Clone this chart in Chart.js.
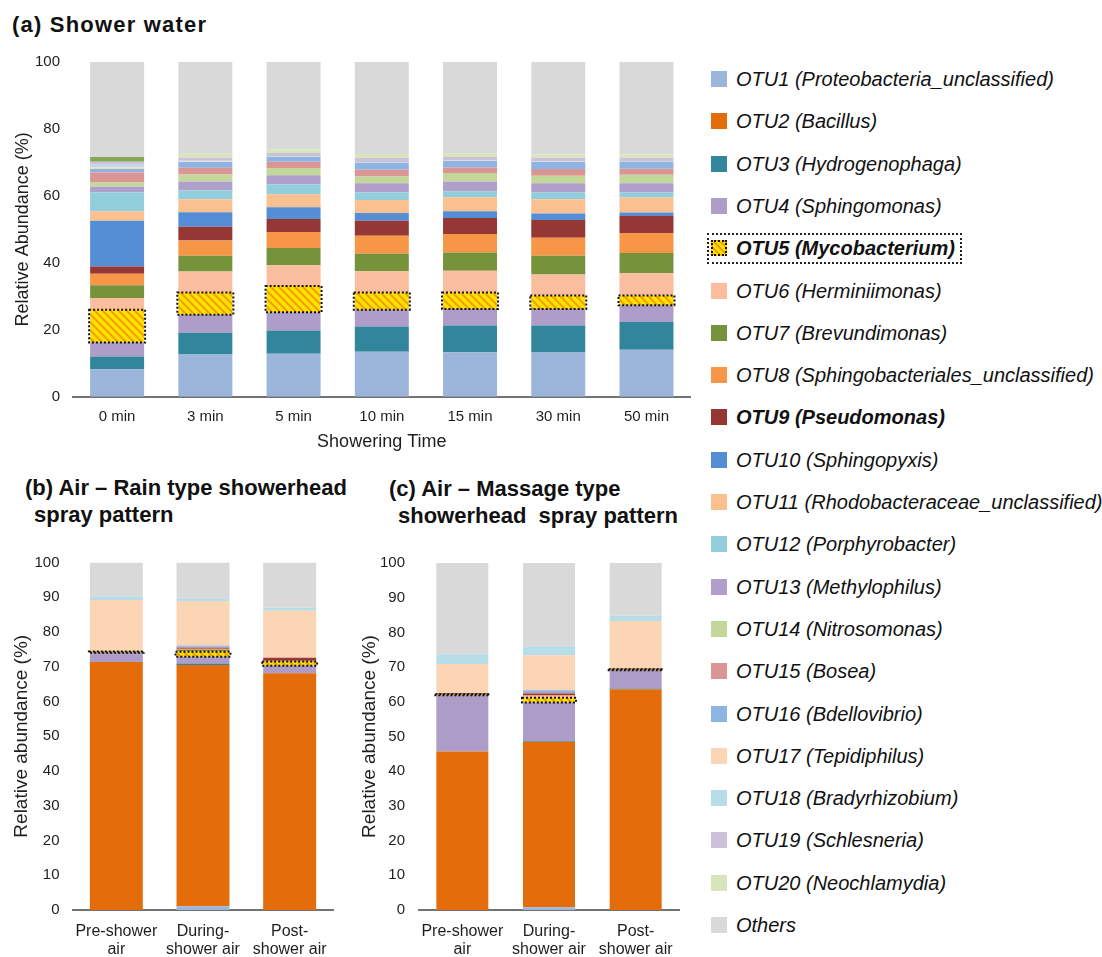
<!DOCTYPE html>
<html><head><meta charset="utf-8">
<script src="https://cdn.jsdelivr.net/npm/chart.js@4.4.1/dist/chart.umd.min.js"></script>
<style>
body{margin:0;background:#fff;width:1102px;height:957px;position:relative;overflow:hidden;font-family:"Liberation Sans",Arial,sans-serif;color:#111}
.cv{position:absolute}
.title{position:absolute;font-weight:bold;font-size:22px;white-space:pre;height:26px;line-height:26px;color:#111}
.leg{position:absolute;left:711px;font-style:italic;font-size:20px;white-space:nowrap;height:24px;line-height:24px;color:#111}
.sw{position:absolute;left:0;top:4px;width:16px;height:16px}
.lt{position:absolute;left:25px;top:0}
.hatch{background:repeating-linear-gradient(45deg,#ffe100 0 3px,#f4a300 3px 5px);box-sizing:border-box;border:2px dotted #111}
#otu5box{position:absolute;left:707px;width:251px;height:27px;border:2px dotted #222}
</style></head>
<body>
<div class="title" style="left:12px;top:12px;letter-spacing:1.2px">(a) Shower water</div>
<div class="title" style="left:25px;top:475px">(b) Air – Rain type showerhead</div>
<div class="title" style="left:34px;top:502px">spray pattern</div>
<div class="title" style="left:389px;top:476px">(c) Air – Massage type</div>
<div class="title" style="left:398px;top:503px">showerhead  spray pattern</div>

<canvas id="chartA" class="cv" width="700" height="420" style="left:0;top:40px"></canvas>
<canvas id="chartB" class="cv" width="345" height="417" style="left:0;top:540px"></canvas>
<canvas id="chartC" class="cv" width="345" height="417" style="left:345px;top:540px"></canvas>
<div id="legend"></div>

<script>
// ---------- data ----------
const otuNames = [
  'OTU1 (Proteobacteria_unclassified)','OTU2 (Bacillus)','OTU3 (Hydrogenophaga)','OTU4 (Sphingomonas)',
  'OTU5 (Mycobacterium)','OTU6 (Herminiimonas)','OTU7 (Brevundimonas)','OTU8 (Sphingobacteriales_unclassified)',
  'OTU9 (Pseudomonas)','OTU10 (Sphingopyxis)','OTU11 (Rhodobacteraceae_unclassified)','OTU12 (Porphyrobacter)',
  'OTU13 (Methylophilus)','OTU14 (Nitrosomonas)','OTU15 (Bosea)','OTU16 (Bdellovibrio)','OTU17 (Tepidiphilus)',
  'OTU18 (Bradyrhizobium)','OTU19 (Schlesneria)','OTU20 (Neochlamydia)','Others'
];

// (a) Shower water — values per sample, in the order of otuNames
const showerLabels = ['0 min','3 min','5 min','10 min','15 min','30 min','50 min'];
const shower0min  = [8.2,0,3.8,4.2,9.8,3.5,3.8,3.4,2.2,13.7,2.8,5.7,1.6,1.3,3.0,1.0,0.5,0.8,0.9,1.4,28.4];
const shower3min  = [12.6,0,6.5,5.4,6.6,6.3,4.7,4.6,4.1,4.3,3.9,2.7,2.6,2.1,2.0,1.7,0.2,0.2,0.9,1.2,27.4];
const shower5min  = [12.8,0,7.0,5.4,7.9,6.2,5.1,4.8,3.9,3.5,3.9,3.0,2.7,2.1,1.9,1.5,0.1,0.1,0.9,1.1,26.1];
const shower10min = [13.4,0,7.6,5.0,5.1,6.4,5.2,5.4,4.5,2.3,3.9,2.3,2.7,2.0,2.0,2.1,0.1,0.1,1.2,1.2,27.5];
const shower15min = [13.3,0,8.0,4.9,4.9,6.5,5.5,5.5,4.8,2.0,4.2,1.8,2.9,2.5,1.7,1.9,0.1,0.1,1.0,1.1,27.3];
const shower30min = [13.2,0,8.1,4.9,4.0,6.3,5.6,5.4,5.3,1.9,4.3,2.0,2.8,2.2,2.0,2.1,0.1,0.1,1.1,1.0,27.6];
const shower50min = [14.0,0,8.3,5.0,2.9,6.7,6.0,6.0,5.1,1.0,4.5,1.5,2.8,2.5,1.8,2.1,0.1,0.1,1.0,1.0,27.6];

// (b) Air – rain type showerhead
const airLabels = [['Pre-shower','air'],['During-','shower air'],['Post-','shower air']];
const rainPre    = [0,71.4,0,2.6,0.4,0,0,0,0.1,0,0,0,0,0,0,0,14.7,1.1,0,0,9.7];
const rainDuring = [1.1,69.4,0.4,2.0,1.4,0.2,0.4,0.3,0.3,0,0,0,0.3,0,0,0.3,12.8,0.8,0,0,10.3];
const rainPost   = [0,68.1,0,2.2,1.2,0,0,0.2,0.9,0,0,0,0,0,0,0,13.5,0.9,0,0,13.0];

// (c) Air – massage type showerhead
const massagePre    = [0,45.7,0,16.2,0.3,0,0,0,0.3,0,0,0,0,0,0,0,8.4,2.8,0,0,26.3];
const massageDuring = [0.8,47.7,0.3,11.0,1.4,0.3,0,0.4,0.5,0,0,0,0.4,0,0,0.5,10.1,2.6,0,0,24.0];
const massagePost   = [0,63.6,0.2,5.3,0.3,0,0,0,0.2,0,0,0,0,0,0,0,13.7,1.5,0,0,15.2];

const yTicksA = [0,20,40,60,80,100];
const yTicksBC = [0,10,20,30,40,50,60,70,80,90,100];

// ---------- styles ----------
const otuColors = ['#9cb5da','#e46c0a','#31869b','#ae9dc8',null,'#fabd9e','#76933c','#f79646','#953735','#558ed5',
  '#fac08f','#92cddc','#b09fca','#c4d79b','#da9694','#8db4e2','#fcd5b4','#b7dee8','#ccc0da','#d8e4bc','#d9d9d9'];
const FONT = '"Liberation Sans", Arial, sans-serif';
const TXT = '#1e1e1e';

function hatchPattern(ctx){
  const c=document.createElement('canvas'); c.width=c.height=8;
  const g=c.getContext('2d');
  g.fillStyle='#ffe100'; g.fillRect(0,0,8,8);
  g.strokeStyle='#f2a200'; g.lineWidth=2;
  g.beginPath();
  g.moveTo(-4,4); g.lineTo(4,12);
  g.moveTo(0,0); g.lineTo(8,8);
  g.moveTo(4,-4); g.lineTo(12,4);
  g.stroke();
  return ctx.createPattern(c,'repeat');
}

const dotBorder = {
  id:'dotBorder',
  afterDatasetsDraw(chart){
    const idx = chart.data.datasets.findIndex(d=>d.label.startsWith('OTU5'));
    const meta = chart.getDatasetMeta(idx);
    const ctx = chart.ctx;
    ctx.save();
    ctx.setLineDash([2,2]); ctx.lineWidth=2; ctx.strokeStyle='#111';
    meta.data.forEach((el,j)=>{
      if(!chart.data.datasets[idx].data[j]) return;
      const p = el.getProps(['x','y','base','width'],true);
      ctx.strokeRect(p.x-p.width/2-1, p.y, p.width+2, p.base-p.y);
    });
    ctx.restore();
  }
};

function makeChart(id, labels, samples, cfg){
  const canvas=document.getElementById(id);
  const ctx=canvas.getContext('2d');
  const pat=hatchPattern(ctx);
  const datasets = otuNames.map((name,k)=>({
    label:name,
    data:samples.map(s=>s[k]),
    backgroundColor: k===4 ? pat : (cfg.colorOverride && cfg.colorOverride[k]) || otuColors[k],
    borderWidth:0,
    barPercentage:cfg.barPct,
    categoryPercentage:1
  }));
  return new Chart(ctx,{
    type:'bar',
    data:{labels, datasets},
    plugins:[dotBorder],
    options:{
      responsive:false, animation:false, devicePixelRatio:1,
      layout:{padding:cfg.padding},
      plugins:{legend:{display:false},tooltip:{enabled:false}},
      scales:{
        x:{stacked:true,
           grid:{display:false,drawTicks:false},
           border:{display:true,color:'#737373',width:2},
           ticks:{color:TXT,font:{family:FONT,size:cfg.xFont,lineHeight:1.15},padding:cfg.xPad,maxRotation:0,autoSkip:false},
           title:{display:!!cfg.xTitle,text:cfg.xTitle||'',color:TXT,font:{family:FONT,size:18},padding:{top:0,bottom:7}},
           afterFit:s=>{s.height=cfg.xHeight;}
        },
        y:{stacked:true,min:0,max:100,
           afterBuildTicks:s=>{s.ticks=cfg.yTicks.map(v=>({value:v}));},
           grid:{display:false,drawTicks:false},
           border:{display:false},
           ticks:{color:TXT,font:{family:FONT,size:15},padding:cfg.yPad},
           title:{display:true,text:cfg.yTitle,color:TXT,font:{family:FONT,size:cfg.yTitleSize},padding:{top:cfg.yTitlePad,bottom:0}},
           afterFit:s=>{s.width=cfg.yWidth;}
        }
      }
    }
  });
}

makeChart('chartA', showerLabels,
  [shower0min,shower3min,shower5min,shower10min,shower15min,shower30min,shower50min],
  {barPct:0.612, padding:{top:21.7,right:9.4,bottom:0,left:0}, xFont:15, xPad:12, xTitle:'Showering Time', xHeight:63.3,
   yTicks:yTicksA, yPad:13, yTitle:'Relative Abundance (%)', yTitleSize:18, yTitlePad:12, yWidth:73,
   colorOverride:{19:['#86a556','#d8e4bc','#d8e4bc','#d8e4bc','#d8e4bc','#d8e4bc','#d8e4bc']}});

makeChart('chartB', airLabels, [rainPre,rainDuring,rainPost],
  {barPct:0.611, padding:{top:16.7,right:12,bottom:0,left:0}, xFont:16, xPad:12, xTitle:null, xHeight:47,
   yTicks:yTicksBC, yPad:13.5, yTitle:'Relative abundance (%)', yTitleSize:19, yTitlePad:10, yWidth:73});

makeChart('chartC', airLabels, [massagePre,massageDuring,massagePost],
  {barPct:0.6, padding:{top:16.7,right:11,bottom:0,left:0}, xFont:16, xPad:12, xTitle:null, xHeight:47,
   yTicks:yTicksBC, yPad:14, yTitle:'Relative abundance (%)', yTitleSize:19, yTitlePad:13, yWidth:74});

// ---------- legend ----------
const legend=document.getElementById('legend');
otuNames.forEach((name,k)=>{
  const cy = 79 + k*42.3;
  const row=document.createElement('div');
  row.className='leg'; row.style.top=(cy-12)+'px';
  const sw=document.createElement('div');
  sw.className='sw'+(k===4?' hatch':'');
  if(k!==4) sw.style.background=otuColors[k];
  const t=document.createElement('div'); t.className='lt'; t.textContent=name;
  if(k===4||k===8) t.style.fontWeight='bold';
  row.appendChild(sw); row.appendChild(t); legend.appendChild(row);
  if(k===4){
    const b=document.createElement('div'); b.id='otu5box'; b.style.top=(cy-15)+'px'; legend.appendChild(b);
  }
});
</script>
</body></html>
